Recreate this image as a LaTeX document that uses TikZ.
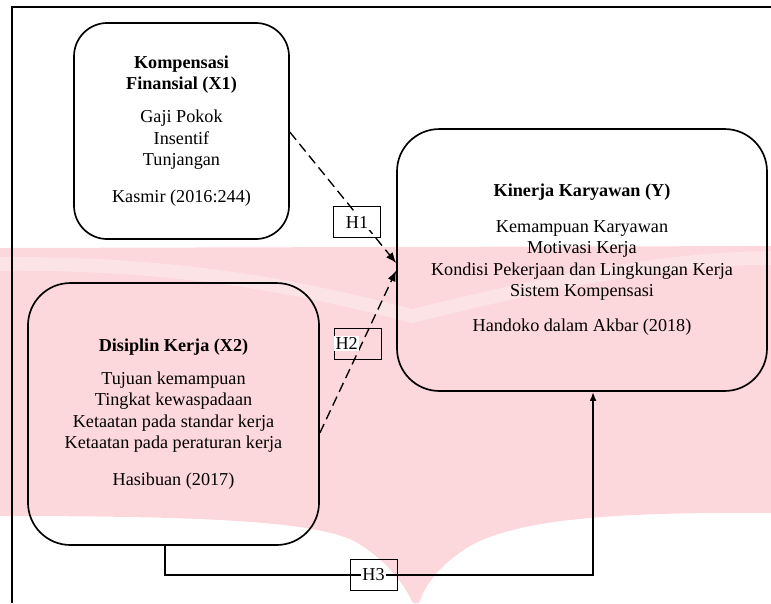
\documentclass[tikz,border=0pt]{standalone}
\usepackage{fontspec}
\setmainfont{Liberation Serif}
\usepackage{tikz}
\usetikzlibrary{arrows.meta}
\definecolor{wmpink}{RGB}{252,215,220}
\tikzstyle{varbox} = [rectangle, rounded corners=22pt, draw=black, line width=1.1pt,
    align=center, text centered, font=\fontsize{12}{14.2}\selectfont]
\tikzstyle{hbox} = [rectangle, draw=black, line width=0.5pt,
    minimum width=31.5pt, minimum height=20.5pt]
\tikzstyle{hlabel} = [fill=white, inner sep=1pt, font=\fontsize{12}{14.2}\selectfont]
\tikzstyle{dasharrow} = [line width=0.9pt, dash pattern=on 6.5pt off 3.5pt,
    -{Latex[length=7pt,width=5.5pt]}]
\tikzstyle{arrow} = [line width=1.6pt, -{Latex[length=6pt,width=4.5pt]}]

\begin{document}
\begin{tikzpicture}[x=0.66pt, y=-0.66pt]
                \useasboundingbox (0,0) rectangle (771,603);
                % watermark in the background
                \fill[wmpink] (0,248) -- (771,246) -- (771,513)
                    .. controls (620,512) and (520,518) .. (470,546)
                    .. controls (440,564) and (425,585) .. (419,603) -- (413,603)
                    .. controls (402,580) and (382,556) .. (352,540)
                    .. controls (310,521) and (200,516) .. (0,516) -- cycle;
                \draw[white, opacity=0.3, line width=9pt] (0,264)
                    .. controls (200,262) and (330,295) .. (412,316)
                    .. controls (520,290) and (650,258) .. (771,258);
                \draw[line width=1pt] (12,603) -- (12,7) -- (771,7);

                \node (x1) [varbox, minimum width=141.9pt, minimum height=142.6pt] at (181.5,131)
                    {\textbf{Kompensasi}\\\textbf{Finansial (X1)}\\[7.6pt]Gaji Pokok\\Insentif\\Tunjangan\\[10pt]Kasmir (2016:244)};
                \node (y) [varbox, rounded corners=28pt, minimum width=244.2pt, minimum height=172.9pt] at (582,260)
                    {\textbf{Kinerja Karyawan (Y)}\\[9pt]Kemampuan Karyawan\\Motivasi Kerja\\Kondisi Pekerjaan dan Lingkungan Kerja\\Sistem Kompensasi\\[9pt]Handoko dalam Akbar (2018)};
                \node (x2) [varbox, rounded corners=28pt, minimum width=192.1pt, minimum height=172.9pt] at (173.5,414)
                    {\textbf{Disiplin Kerja (X2)}\\[7.6pt]Tujuan kemampuan\\Tingkat kewaspadaan\\Ketaatan pada standar kerja\\Ketaatan pada peraturan kerja\\[10pt]Hasibuan (2017)};

                \coordinate (t1) at ([yshift=-2pt]y.west);
                \coordinate (t2) at ([yshift=-7pt]y.west);
                \draw [dasharrow] ([yshift=-0.7pt]x1.east) -- (t1);
                \draw [dasharrow] ([yshift=-12.5pt]x2.east) -- (t2);
                \draw [arrow] ([xshift=-5.6pt]x2.south) |- (373.5,575) -| ([xshift=7.3pt]y.south);

                \node (h1) [hbox, label={[hlabel]center:H1}] at (357,222) {};
                \node (h2) [hbox, label={[hlabel, anchor=west]west:H2}] at (358,343.5) {};
                \node (h3) [hbox, minimum width=31pt, label={[hlabel]center:H3}] at (373.5,574.5) {};
            \end{tikzpicture}
\end{document}
